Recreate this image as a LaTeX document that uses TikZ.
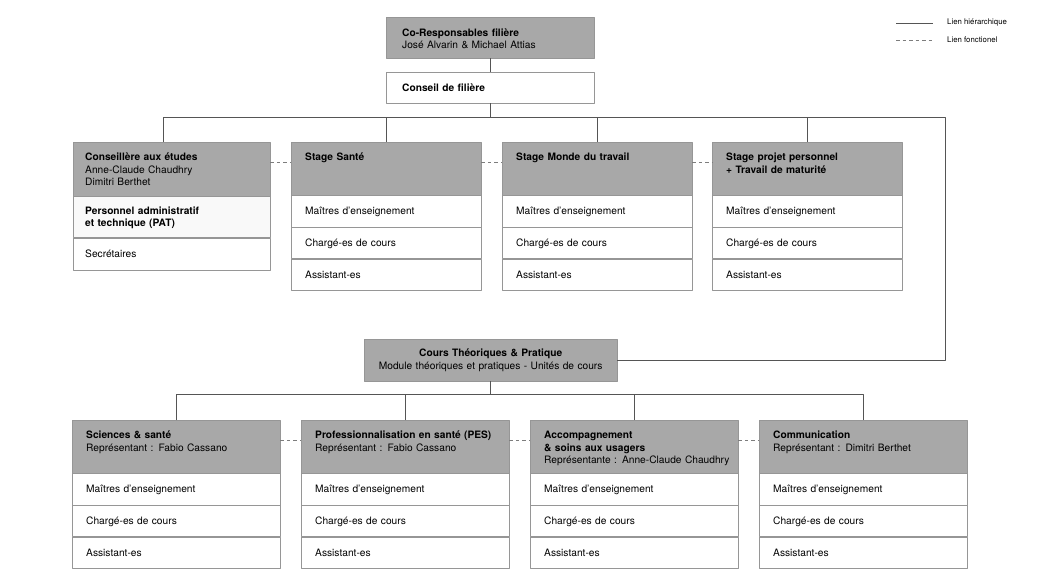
\documentclass[tikz,border=0pt]{standalone}
\usepackage{fontspec}
\setmainfont{TeX Gyre Heros}
\usetikzlibrary{positioning}
\definecolor{boxgray}{RGB}{168,168,168}
\definecolor{boxline}{RGB}{150,150,150}
\definecolor{linkgray}{RGB}{85,85,85}
\definecolor{dashgray}{RGB}{125,125,125}
\definecolor{patgray}{RGB}{249,249,249}
\begin{document}
\begin{tikzpicture}[x=1pt,y=-1pt,line join=round,font=\fontsize{10.2}{12.5}\selectfont,
	hdr/.style={draw=boxline,fill=boxgray,anchor=north west,inner xsep=14pt,inner ysep=0pt,align=left,text width=162pt,text height=18.5pt,text depth=34.5pt},
	row/.style={draw=boxline,fill=white,inner xsep=14pt,inner ysep=0pt,align=left,text height=7pt,text depth=0pt,minimum height=31.33pt},
	hier/.style={draw=linkgray,line width=0.8pt},
	fonct/.style={draw=dashgray,line width=0.9pt,dash pattern=on 3.5pt off 3pt},
	legend/.style={inner sep=0pt,anchor=base west,font=\fontsize{7.8}{9}\selectfont}]
	\useasboundingbox (0,0) rectangle (1040,585);
	\path
	(0,117) coordinate (busT)
	(945,117) coordinate (busR)
	(0,394) coordinate (busB)
	(0,162) coordinate (dashT)
	(0,440) coordinate (dashB);
	\node[hdr,inner xsep=16pt,text width=176pt,text height=19pt,text depth=22pt] (cores) at (386,17) {\textbf{Co-Responsables filière}\\José Alvarin \& Michael Attias};
	\node[row,anchor=north west,inner xsep=16pt,text width=176pt,minimum height=31pt] (conseil) at (386,72) {\textbf{Conseil de filière}};
	\node[hdr,inner xsep=12pt,text width=173pt,text depth=35.5pt] (cons) at (73,142) {\textbf{Conseillère aux études}\\Anne-Claude Chaudhry\\Dimitri Berthet};
	\node[row,fill=patgray,inner xsep=12pt,text width=173pt,text depth=12.5pt,minimum height=41pt,below=0pt of cons] (pat) {\textbf{Personnel administratif}\\\textbf{et technique (PAT)}};
	\node[row,inner xsep=12pt,text width=173pt,minimum height=32pt,below=0pt of pat] (secr) {Secrétaires};
	\node[hdr] (sante) at (291,142) {\textbf{Stage Santé}};
	\node[hdr] (monde) at (502,142) {\textbf{Stage Monde du travail}};
	\node[hdr] (projet) at (712,142) {\textbf{Stage projet personnel}\\\textbf{+ Travail de maturité}};
	\node[hdr,fill=boxgray,anchor=north west,inner xsep=0pt,align=center,text width=253pt,text height=17.5pt,text depth=24.5pt] (cours) at (364,339) {\textbf{Cours Théoriques \& Pratique}\\Module théoriques et pratiques - Unités de cours};
	\node[hdr,text width=180pt] (sci) at (72,420) {\textbf{Sciences \& santé}\\Représentant :  Fabio Cassano};
	\node[hdr,text width=180pt] (pes) at (301,420) {\textbf{Professionnalisation en santé (PES)}\\Représentant :  Fabio Cassano};
	\node[hdr,text width=180pt] (acc) at (530,420) {\textbf{Accompagnement}\\\textbf{\& soins aux usagers}\\\mbox{Représentante :  Anne-Claude Chaudhry}};
	\node[hdr,text width=180pt] (com) at (759,420) {\textbf{Communication}\\Représentant : Dimitri Berthet};
	\foreach \c/\w in {sante/162,monde/162,projet/162,sci/180,pes/180,acc/180,com/180}{
		\node[row,text width=\w pt,below=0pt of \c] (\c1) {Maîtres d’enseignement};
		\node[row,text width=\w pt,below=0pt of \c1] (\c2) {Chargé-es de cours};
		\node[row,text width=\w pt,below=0pt of \c2] (\c3) {Assistant-es};
	}
	\draw[hier] (cores) -- (conseil);
	\draw[hier] (conseil) -- (conseil.south |- busT);
	\draw[hier] ([xshift=-8.5pt]cons.north) |- (busR) |- (cours.east);
	\foreach \c in {sante,monde,projet}
		\draw[hier] (\c) -- (\c.north |- busT);
	\draw[hier] (cours) -- (cours.south |- busB);
	\draw[hier] (sci) |- (com.north |- busB) -- (com);
	\foreach \c in {pes,acc}
		\draw[hier] (\c) -- (\c.north |- busB);
	\foreach \a/\b in {cons/sante,sante/monde,monde/projet}
		\draw[fonct] (\a.east |- dashT) -- (\b.west |- dashT);
	\foreach \a/\b in {sci/pes,pes/acc,acc/com}
		\draw[fonct] (\a.east |- dashB) -- (\b.west |- dashB);
	\node[legend] (lgh) at (947,25) {Lien hiérarchique};
	\node[legend] (lgf) at (947,43) {Lien fonctionel};
	\path (896,23) coordinate (lgha) (896,40) coordinate (lgfa);
	\draw[hier] (lgha) -- (lgha -| 933,0);
	\draw[fonct] (lgfa) -- (lgfa -| 933,0);
\end{tikzpicture}
\end{document}
